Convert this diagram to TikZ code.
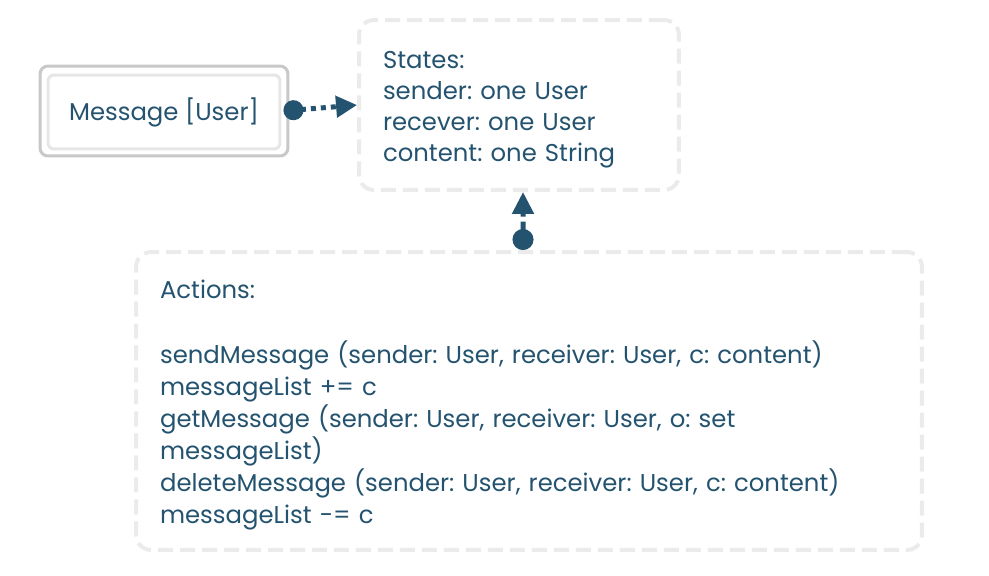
\documentclass[tikz,border=0pt]{standalone}
\usepackage{fontspec}
\setmainfont{Poppins}
\usetikzlibrary{arrows.meta}
\definecolor{ink}{HTML}{24536F}
\definecolor{frameout}{HTML}{C8C8C8}
\definecolor{framein}{HTML}{E6E6E6}
\definecolor{dashgray}{HTML}{EBEBEB}
\frenchspacing

\begin{document}
\begin{tikzpicture}[x=0.02cm,y=-0.02cm,
  txt/.style={text=ink,font=\fontsize{13.85pt}{17.6pt}\selectfont},
  dashbox/.style={txt,draw=dashgray,line width=0.08cm,dash pattern=on 0.3cm off 0.14cm,
    rounded corners=0.3cm,align=left,inner xsep=0.48cm,anchor=center},
  link/.style={draw=ink,line width=0.1cm}]
\useasboundingbox (0,0) rectangle (989,575);
	% message frame
	\node[draw=frameout,line width=0.06cm,rounded corners=0.16cm,
	  minimum width=4.96cm,minimum height=1.8cm] (msgframe) at (164,111) {};
	\node[txt,draw=framein,line width=0.06cm,rounded corners=0.12cm,
	  minimum width=4.64cm,minimum height=1.48cm] (msg) at (164,112) {Message [User]};
	% states
	\node[dashbox,text width=5.44cm,minimum height=3.4cm] (states) at (519,105)
	  {\rule{0pt}{15.5pt}States:\\sender: one User\\recever: one User\\content: one String};
	% actions
	\node[dashbox,font=\fontsize{13.85pt}{18.3pt}\selectfont,text width=14.76cm,
	  minimum height=5.96cm] (actions) at (529,401)
	  {\rule{0pt}{15.5pt}Actions:\\[18.3pt]
	  sendMessage (sender: User, receiver: User, c: content)\\
	  messageList += c\\
	  getMessage (sender: User, receiver: User, o: set\\
	  messageList)\\
	  deleteMessage (sender: User, receiver: User, c: content)\\
	  messageList -= c};
	% links
	\draw[link,dash pattern=on 0.1cm off 0.1cm,
	  {Circle[length=0.4cm,width=0.4cm]}-{Triangle[length=0.42cm,width=0.42cm]}]
	  ([xshift=-0.12cm]msgframe.east) -- (states.west);
	\draw[link,dash pattern=on 0.2cm off 0.1cm,
	  {Circle[length=0.42cm,width=0.42cm]}-{Triangle[length=0.44cm,width=0.42cm]}]
	  ([xshift=-0.12cm]actions.north) -- ([xshift=0.08cm]states.south);
\end{tikzpicture}
\end{document}
